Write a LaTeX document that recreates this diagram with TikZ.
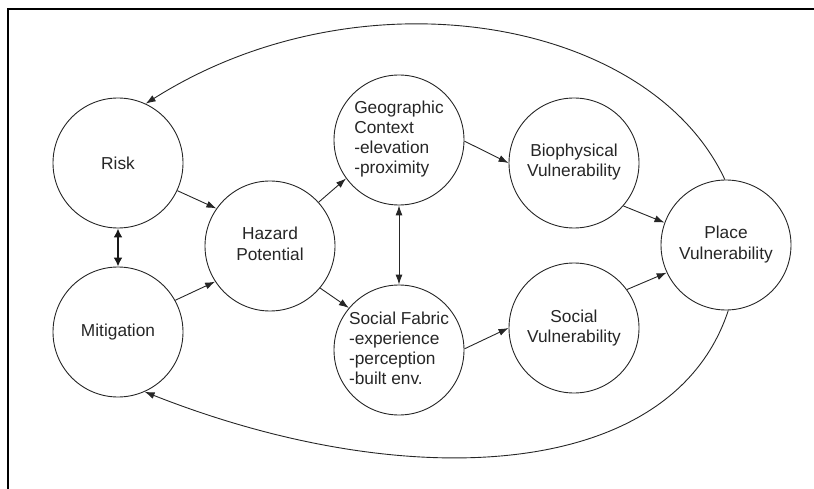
\documentclass[tikz,border=0pt]{standalone}
\usepackage{fontspec}
\setmainfont{Liberation Sans}
\usetikzlibrary{arrows.meta}
\begin{document}
\begin{tikzpicture}[x=1pt,y=-1pt,
  circ/.style={circle,draw=black!85,line width=0.9pt,minimum size=130pt,inner sep=0pt,
    font=\fontsize{17.3}{20}\selectfont,text=black!85},
  arr/.style={draw=black!85,line width=0.9pt,-{Latex[length=10pt,width=7pt]}},
  darr/.style={draw=black!85,line width=0.9pt,{Latex[length=10pt,width=7pt]}-{Latex[length=10pt,width=7pt]}},
  tarr/.style={draw=black!90,line width=2.6pt,{Latex[length=9pt,width=9pt]}-{Latex[length=9pt,width=9pt]}}]
\useasboundingbox (0,0) rectangle (814,489);
\draw[line width=2.5pt] (8,489) -- (8,9) -- (814,9);

\node[circ] (risk) at (118,163) {Risk};
\node[circ] (mit) at (118,332) {Mitigation};
\node[circ] (haz) at (270,246) {\begin{tabular}{@{}c@{}}Hazard\\Potential\end{tabular}};
\node[circ] (geo) at (399,140) {\begin{tabular}{@{}l@{}}Geographic\\Context\\-elevation\\-proximity\end{tabular}};
\node[circ] (sf) at (399,350) {\begin{tabular}{@{}l@{}}Social Fabric\\-experience\\-perception\\-built env.\end{tabular}};
\node[circ] (bio) at (574,163) {\begin{tabular}{@{}c@{}}Biophysical\\Vulnerability\end{tabular}};
\node[circ] (sv) at (574,328) {\begin{tabular}{@{}c@{}}Social\\Vulnerability\end{tabular}};
\node[circ] (place) at (726,245) {\begin{tabular}{@{}c@{}}Place\\Vulnerability\end{tabular}};

\draw[arr] (risk.-25) -- (haz.145);
\draw[arr] (mit.29) -- (haz.213);
\draw[arr] (haz.42) -- (geo.216);
\draw[arr] (haz.-40) -- (sf.140);
\draw[arr] (geo.-1) -- (bio.180);
\draw[arr] (sf.1) -- (sv.180);
\draw[arr] (bio.-41) -- (place.160);
\draw[arr] (sv.36) -- (place.205);
\draw[darr] (geo.south) -- (sf.north);
\draw[tarr] (risk.south) -- (mit.north);

\draw[arr] (place.91) .. controls (649,17) and (360,-32) .. (risk.65);
\draw[arr] (place.-88) .. controls (672,482) and (406,495) .. (mit.-66);
\end{tikzpicture}
\end{document}
